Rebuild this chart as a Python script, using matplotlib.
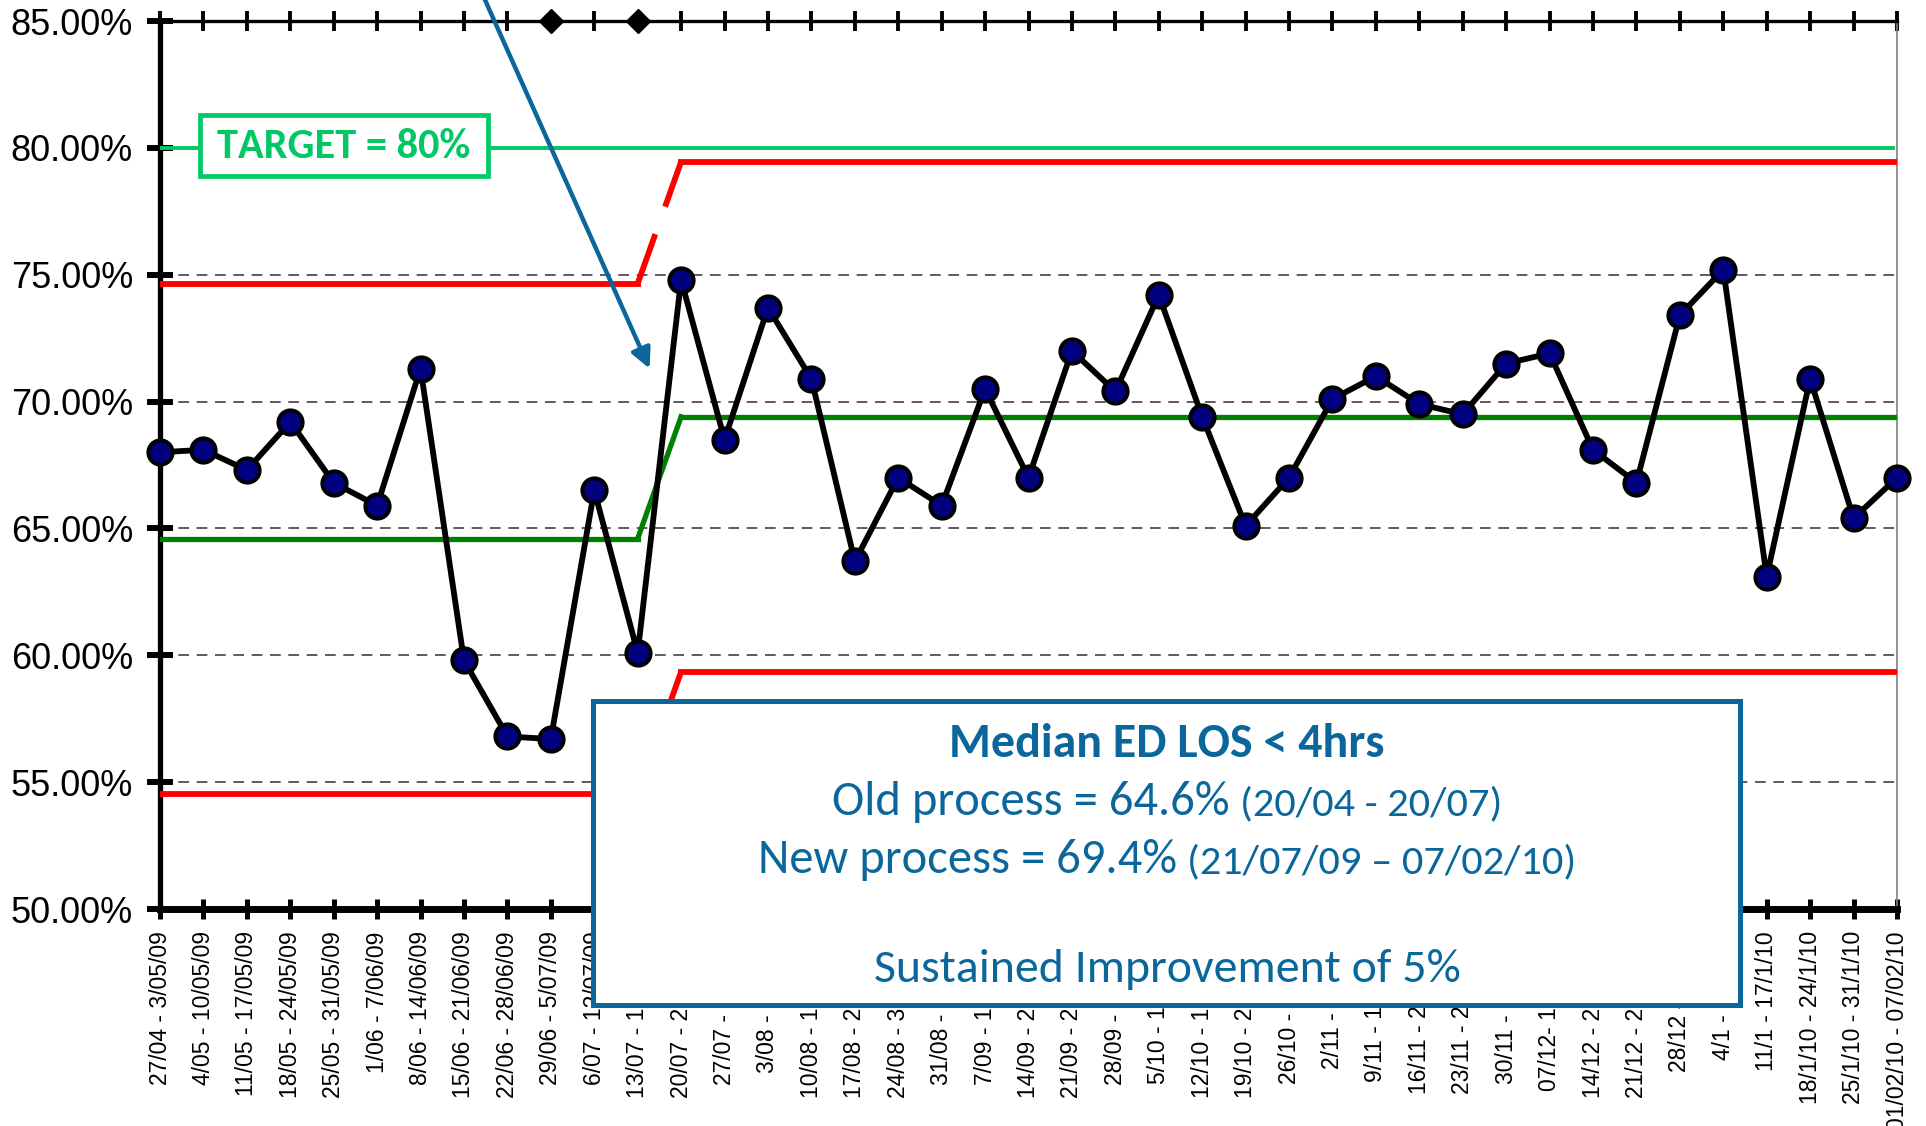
import matplotlib
matplotlib.use("Agg")
import matplotlib.pyplot as plt
from matplotlib.patches import Rectangle
from matplotlib import font_manager

# weekly data
weeks = ["27/04 - 3/05/09", "4/05 - 10/05/09", "11/05 - 17/05/09", "18/05 - 24/05/09",
         "25/05 - 31/05/09", "1/06 - 7/06/09", "8/06 - 14/06/09", "15/06 - 21/06/09",
         "22/06 - 28/06/09", "29/06 - 5/07/09", "6/07 - 12/07/09", "13/07 - 19/07/09",
         "20/07 - 26/07/09", "27/07 - 2/08/09", "3/08 - 9/08/09", "10/08 - 16/08/09",
         "17/08 - 23/08/09", "24/08 - 30/08/09", "31/08 - 6/09/09", "7/09 - 13/09/09",
         "14/09 - 20/09/09", "21/09 - 27/09/09", "28/09 - 4/10/09", "5/10 - 11/10/09",
         "12/10 - 18/10/09", "19/10 - 25/10/09", "26/10 - 1/11/09", "2/11 - 8/11/09",
         "9/11 - 15/11/09", "16/11 - 22/11/09", "23/11 - 29/11/09", "30/11 - 6/12/09",
         "07/12- 13/12/09", "14/12 - 20/12/09", "21/12 - 27/12/09", "28/12 - 3/1/10",
         "4/1 - 10/1/10", "11/1 - 17/1/10", "18/1/10 - 24/1/10", "25/1/10 - 31/1/10",
         "01/02/10 - 07/02/10"]
ed_los = [68.0, 68.1, 67.3, 69.2, 66.8, 65.9, 71.3, 59.8, 56.8, 56.7,
          66.5, 60.1, 74.8, 68.5, 73.7, 70.9, 63.7, 67.0, 65.9, 70.5,
          67.0, 72.0, 70.4, 74.2, 69.4, 65.1, 67.0, 70.1, 71.0, 69.9,
          69.5, 71.5, 71.9, 68.1, 66.8, 73.4, 75.2, 63.1, 70.9, 65.4, 67.0]

# control limits (old process = first 12 weeks)
old_n = 12
old_mean = 64.6
new_mean = 69.4
limit_width = 10.05
target = 80.0
flag_weeks = [9, 11]
y_ticks = [50, 55, 60, 65, 70, 75, 80, 85]

BLUE = "#0B679B"
TGREEN = "#00C864"

names = {f.name for f in font_manager.fontManager.ttflist}
narrow = "Liberation Sans Narrow" if "Liberation Sans Narrow" in names else "Liberation Sans"
boxfont = "Carlito" if "Carlito" in names else "Lato"

W, H = 1926, 1126
fig = plt.figure(figsize=(W / 100, H / 100), dpi=100)
ax = fig.add_axes([160 / W, 1 - 909 / H, (1897 - 160) / W, (909 - 21) / H])

x = list(range(len(weeks)))
last = len(weeks) - 1
b = old_n - 1

# centre line + limits
ax.plot([0, b], [old_mean, old_mean], color="#008000", lw=3.8, zorder=3)
ax.plot([b, old_n], [old_mean, new_mean], color="#008000", lw=3.8, zorder=3)
ax.plot([old_n, last], [new_mean, new_mean], color="#008000", lw=3.8, zorder=3)
for sgn in (1, -1):
    y0 = old_mean + sgn * limit_width
    y1 = new_mean + sgn * limit_width
    ax.plot([0, b], [y0, y0], color="red", lw=4.2, zorder=3)
    ax.plot([b, old_n], [y0, y1], color="red", lw=4.2, zorder=3, dashes=(9, 5))
    ax.plot([old_n, last], [y1, y1], color="red", lw=4.2, zorder=3)

# target
ax.plot([0, last - 0.1], [target, target], color=TGREEN, lw=2.8, zorder=3)

# data
ax.plot(x, ed_los, color="black", lw=4.2, marker="o", markersize=17.5,
        markerfacecolor="#000080", markeredgecolor="black", markeredgewidth=2.8,
        zorder=5, clip_on=False)

# special-cause flags on top axis
ax.plot(flag_weeks, [85] * len(flag_weeks), "D", color="black", markersize=12.5,
        clip_on=False, zorder=6)

ax.set_xlim(0, last)
ax.set_ylim(50, 85)
ax.set_yticks(y_ticks)
ax.set_yticklabels([f"{v:.2f}%" for v in y_ticks], fontfamily="Liberation Sans", fontsize=26)
ax.set_xticks(x)
ax.set_xticklabels(weeks, rotation=90, fontfamily=narrow, fontsize=16.5)

ax.yaxis.grid(True, color="#303030", lw=1.1, ls=(0, (7, 5)))
ax.set_axisbelow(True)

ax.spines["left"].set_linewidth(3.8)
ax.spines["bottom"].set_linewidth(5)
ax.spines["top"].set_linewidth(2.4)
ax.spines["right"].set_linewidth(1.2)
ax.spines["right"].set_color("#808080")

ax.tick_params(axis="y", direction="inout", length=19, width=4.3, pad=10)
ax.tick_params(axis="x", direction="inout", length=14, width=3.6, pad=9, top=True)
for t in ax.xaxis.get_major_ticks():
    t.tick2line.set_markeredgewidth(2.8)
    t.tick2line.set_markersize(14)

# arrow
ax.annotate("", xy=(11.3, 71.2), xytext=(7.31, 86.5),
            arrowprops=dict(arrowstyle="-|>", color=BLUE, lw=3.2, mutation_scale=30),
            annotation_clip=False, zorder=7)

# target box
fig.add_artist(Rectangle((200 / W, 1 - 176 / H), 288 / W, 61 / H, transform=fig.transFigure,
                         facecolor="white", edgecolor=TGREEN, lw=3.4, zorder=5))
fig.text(344 / W, 1 - 146 / H, "TARGET = 80%", color=TGREEN, fontsize=30.5, fontweight="bold",
         fontfamily=boxfont, ha="center", va="center", zorder=6)

# info box
fig.add_artist(Rectangle((592.5 / W, 1 - 1005 / H), (1740 - 592.5) / W, (1005 - 700.5) / H,
                         transform=fig.transFigure, facecolor="white", edgecolor=BLUE,
                         lw=3.6, zorder=5))
cx = 1167
fig.text(cx / W, 1 - 757 / H, "Median ED LOS < 4hrs", color=BLUE, fontsize=34.5,
         fontweight="bold", fontfamily=boxfont, ha="center", va="baseline", zorder=6)
fig.text(cx / W, 1 - 982 / H, "Sustained Improvement of 5%", color=BLUE, fontsize=34.5,
         fontfamily=boxfont, ha="center", va="baseline", zorder=6)

renderer = fig.canvas.get_renderer()
for main, paren, yb in [("Old process = 64.6%", "(20/04 - 20/07)", 815),
                        ("New process = 69.4%", "(21/07/09 \u2013 07/02/10)", 873)]:
    t1 = fig.text(0, 1 - yb / H, main, color=BLUE, fontsize=35, fontfamily=boxfont,
                  ha="left", va="baseline", zorder=6)
    t2 = fig.text(0, 1 - yb / H, paren, color=BLUE, fontsize=30.5, fontfamily=boxfont,
                  ha="left", va="baseline", zorder=6)
    w1 = t1.get_window_extent(renderer).width
    w2 = t2.get_window_extent(renderer).width
    gap = 10
    start = cx - (w1 + gap + w2) / 2
    t1.set_x(start / W)
    t2.set_x((start + w1 + gap) / W)

fig.savefig("out.png", dpi=100)
